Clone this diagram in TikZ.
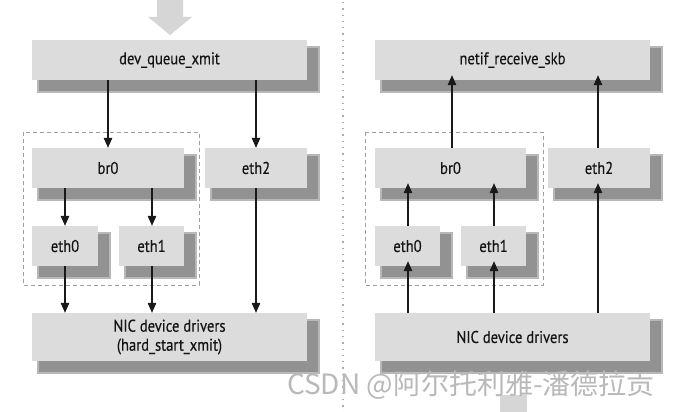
\documentclass[tikz,border=0pt]{standalone}
\usepackage{fontspec}
\setmainfont{PT Sans}[FakeStretch=0.86,FakeBold=0.35]
\newfontfamily\wmfont{Noto Sans CJK SC}
\usetikzlibrary{arrows.meta,backgrounds,calc}
\definecolor{boxfill}{HTML}{DCDCDC}
\definecolor{shadowfill}{HTML}{929292}
\definecolor{shadowedge}{HTML}{B8B8B8}
\tikzset{
  box/.style={fill=boxfill, inner sep=0pt, minimum height=40pt, font=\fontsize{17}{19}\selectfont, align=center, text=black!92},
  link/.style={draw=black!90, line width=1.1pt, -{Triangle[length=10pt,width=8.5pt]}},
  uplink/.style={link, shorten >=-5pt},
  group/.style={draw=gray!75, line width=0.8pt, dash pattern=on 4pt off 3pt},
  sepline/.style={draw=gray!65, line width=1.3pt, dash pattern=on 1.3pt off 5pt},
  bigarrow/.style={fill=gray!32, draw=none},
  wm/.style={font=\wmfont\fontsize{28}{28}\selectfont, text=gray!55, inner sep=0pt},
}
\newcommand\boxshadow[1]{\fill[shadowfill, draw=shadowedge, line width=1.5pt] ($(#1.south west)+(6,12)$) rectangle ($(#1.north east)+(12,7)$);}
\begin{document}
\begin{tikzpicture}[x=1pt,y=-1pt]
\useasboundingbox (0,0) rectangle (683,412);
% ---------- left: transmit ----------
\node[box, minimum width=275pt] (dqx) at (169.5,60) {dev\_queue\_xmit};
\node[box, minimum width=152pt] (br0L) at (108,168) {br0};
\node[box, minimum width=102pt] (eth2L) at (256,168) {eth2};
\node[box, minimum width=66pt] (eth0L) at (65,246) {eth0};
\node[box, minimum width=65pt] (eth1L) at (151.5,246) {eth1};
\node[box, minimum width=275pt, minimum height=48pt] (nicL) at (169.5,337) {NIC device drivers\\(hard\_start\_xmit)};
% ---------- right: receive ----------
\node[box, minimum width=275pt] (nrs) at (512.5,60) {netif\_receive\_skb};
\node[box, minimum width=151pt] (br0R) at (450.5,168) {br0};
\node[box, minimum width=102pt] (eth2R) at (599,168) {eth2};
\node[box, minimum width=65pt] (eth0R) at (407.5,246) {eth0};
\node[box, minimum width=65pt] (eth1R) at (493.5,246) {eth1};
\node[box, minimum width=275pt, minimum height=48pt] (nicR) at (512.5,337) {NIC device drivers};
\begin{pgfonlayer}{background}
  \fill[white] (0,0) rectangle (683,412);
  \foreach \n in {dqx,br0L,eth2L,eth0L,eth1L,nicL,nrs,br0R,eth2R,eth0R,eth1R,nicR} {\boxshadow{\n}}
\end{pgfonlayer}
% big flow arrows
\fill[bigarrow] (157,0) -- (183,0) -- (183,17) -- (192,17) -- (170,35) -- (148,17) -- (157,17) -- cycle;
\fill[bigarrow] (500,395) rectangle (527,412);
% separator
\draw[sepline] (343,2) -- (343,412);
% bridge groups
\draw[group] (23,132) rectangle (199,285);
\draw[group] (365,132) rectangle (543,285);
% left connectors (downward)
\draw[link] (br0L.north |- dqx.south) -- (br0L.north);
\draw[link] (eth2L.north |- dqx.south) -- (eth2L.north);
\draw[link] (eth0L.north |- br0L.south) -- (eth0L.north);
\draw[link] ($(eth1L.north |- br0L.south)+(0.5,0)$) -- ($(eth1L.north)+(0.5,0)$);
\draw[link] (eth0L.south) -- (eth0L.south |- nicL.north);
\draw[link] ($(eth1L.south)+(0.5,0)$) -- ($(eth1L.south |- nicL.north)+(0.5,0)$);
\draw[link] (eth2L.south) -- (eth2L.south |- nicL.north);
% right connectors (upward)
\draw[uplink] ($(br0R.north)+(1.5,0)$) -- ($(br0R.north |- nrs.south)+(1.5,0)$);
\draw[uplink] ($(eth2R.north)+(-1,0)$) -- ($(eth2R.north |- nrs.south)+(-1,0)$);
\draw[uplink] ($(eth0R.north)+(0.5,0)$) -- ($(eth0R.north |- br0R.south)+(0.5,0)$);
\draw[uplink] ($(eth1R.north)+(0.5,0)$) -- ($(eth1R.north |- br0R.south)+(0.5,0)$);
\draw[uplink] ($(eth0R.south |- nicR.north)+(0.5,0)$) -- ($(eth0R.south)+(0.5,0)$);
\draw[uplink] ($(eth1R.south |- nicR.north)+(0.5,0)$) -- ($(eth1R.south)+(0.5,0)$);
\draw[uplink] ($(eth2R.south |- nicR.north)+(-1,0)$) -- ($(eth2R.south)+(-1,0)$);
% watermark
\node[wm] (mark) at (471,385) {CSDN @阿尔托利雅-潘德拉贡};
\end{tikzpicture}
\end{document}
